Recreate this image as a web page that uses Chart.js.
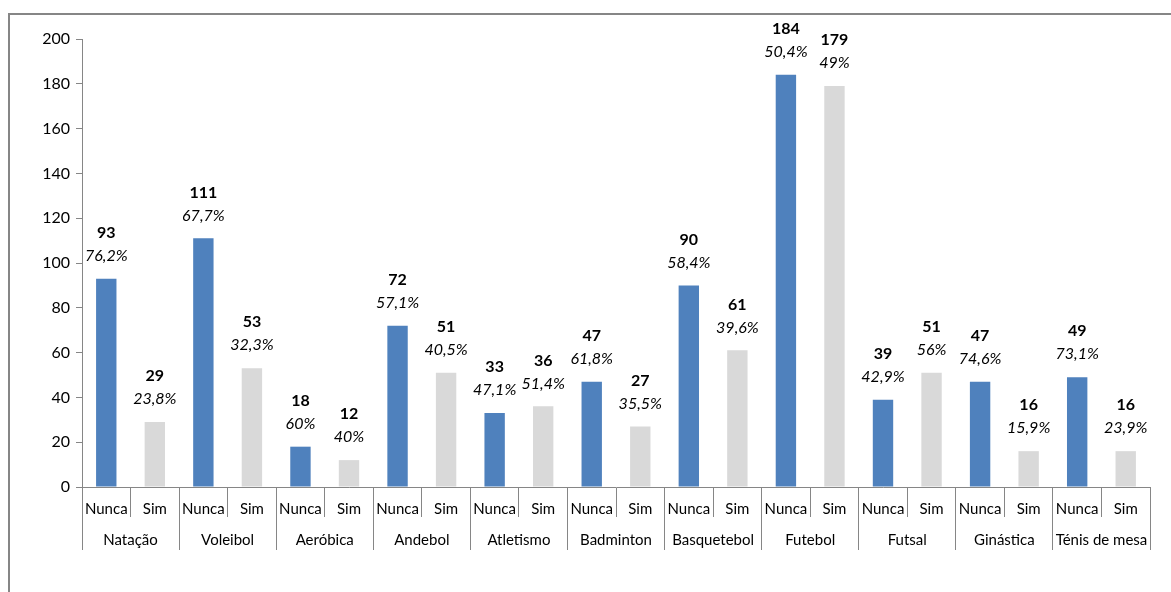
<!DOCTYPE html>
<html>
<head>
<meta charset="utf-8">
<script src="https://cdn.jsdelivr.net/npm/chart.js@4"></script>
<style>
  html, body { margin: 0; padding: 0; background: #fff; }
  #wrap { width: 1171px; height: 592px; }
</style>
</head>
<body>
<div id="wrap"><canvas id="chart"></canvas></div>
<script>
const sports = ['Natação', 'Voleibol', 'Aeróbica', 'Andebol', 'Atletismo', 'Badminton',
  'Basquetebol', 'Futebol', 'Futsal', 'Ginástica', 'Ténis de mesa'];
const answers = ['Nunca', 'Sim'];
const nunca = [93, 111, 18, 72, 33, 47, 90, 184, 39, 47, 49];
const sim = [29, 53, 12, 51, 36, 27, 61, 179, 51, 16, 16];
const nuncaPct = ['76,2%', '67,7%', '60%', '57,1%', '47,1%', '61,8%', '58,4%', '50,4%', '42,9%', '74,6%', '73,1%'];
const simPct = ['23,8%', '32,3%', '40%', '40,5%', '51,4%', '35,5%', '39,6%', '49%', '56%', '15,9%', '23,9%'];
const yTicks = [0, 20, 40, 60, 80, 100, 120, 140, 160, 180, 200];

const blue = '#4f81bd';
const grey = '#d9d9d9';
const axisGrey = '#868686';
const font = 'Lato, "Open Sans", sans-serif';

// flatten into Nunca/Sim pairs
const labels = [], values = [], pcts = [], colors = [];
sports.forEach((s, i) => {
  labels.push(answers[0], answers[1]);
  values.push(nunca[i], sim[i]);
  pcts.push(nuncaPct[i], simPct[i]);
  colors.push(blue, grey);
});

const frame = {
  id: 'frame',
  beforeDraw(chart) {
    const ctx = chart.ctx;
    ctx.save();
    ctx.strokeStyle = axisGrey;
    ctx.lineWidth = 2;
    ctx.strokeRect(9, 14, 1300, 700);
    ctx.restore();
  }
};

const barLabels = {
  id: 'barLabels',
  afterDatasetsDraw(chart) {
    const ctx = chart.ctx;
    const meta = chart.getDatasetMeta(0);
    ctx.save();
    ctx.textAlign = 'center';
    ctx.textBaseline = 'middle';
    ctx.fillStyle = '#000';
    meta.data.forEach((bar, i) => {
      ctx.font = 'bold 16px ' + font;
      ctx.fillText(String(values[i]), bar.x, bar.y - 46);
      ctx.font = 'italic 16px ' + font;
      ctx.fillText(pcts[i], bar.x, bar.y - 23);
    });
    ctx.restore();
  }
};

new Chart(document.getElementById('chart'), {
  type: 'bar',
  data: {
    labels,
    datasets: [{
      data: values,
      backgroundColor: colors,
      barPercentage: 0.42,
      categoryPercentage: 1
    }]
  },
  options: {
    responsive: true,
    maintainAspectRatio: false,
    animation: false,
    layout: { padding: { left: 0, right: 21, top: 39, bottom: 42 } },
    plugins: {
      legend: { display: false },
      tooltip: { enabled: false }
    },
    scales: {
      y: {
        min: 0,
        max: 200,
        afterBuildTicks(scale) { scale.ticks = yTicks.map(v => ({ value: v })); },
        afterFit(scale) { scale.width = 82; },
        grid: { drawOnChartArea: false, tickLength: 6, color: axisGrey },
        border: { color: axisGrey, width: 1 },
        ticks: { color: '#000', padding: 6, font: { size: 16, family: font } }
      },
      x: {
        type: 'category',
        afterFit(scale) { scale.height = 30; },
        grid: { drawOnChartArea: false, offset: true, tickLength: 30, color: axisGrey },
        border: { color: axisGrey, width: 1 },
        ticks: { color: '#000', padding: -17, maxRotation: 0, autoSkip: false, font: { size: 15, family: font } }
      },
      x2: {
        type: 'category',
        position: 'bottom',
        labels: sports,
        offset: true,
        afterFit(scale) { scale.height = 33; },
        grid: { drawOnChartArea: false, offset: true, tickLength: 33, color: axisGrey },
        border: { display: false },
        ticks: { color: '#000', padding: -19, maxRotation: 0, autoSkip: false, font: { size: 15, family: font } }
      }
    }
  },
  plugins: [frame, barLabels]
});
</script>
</body>
</html>
